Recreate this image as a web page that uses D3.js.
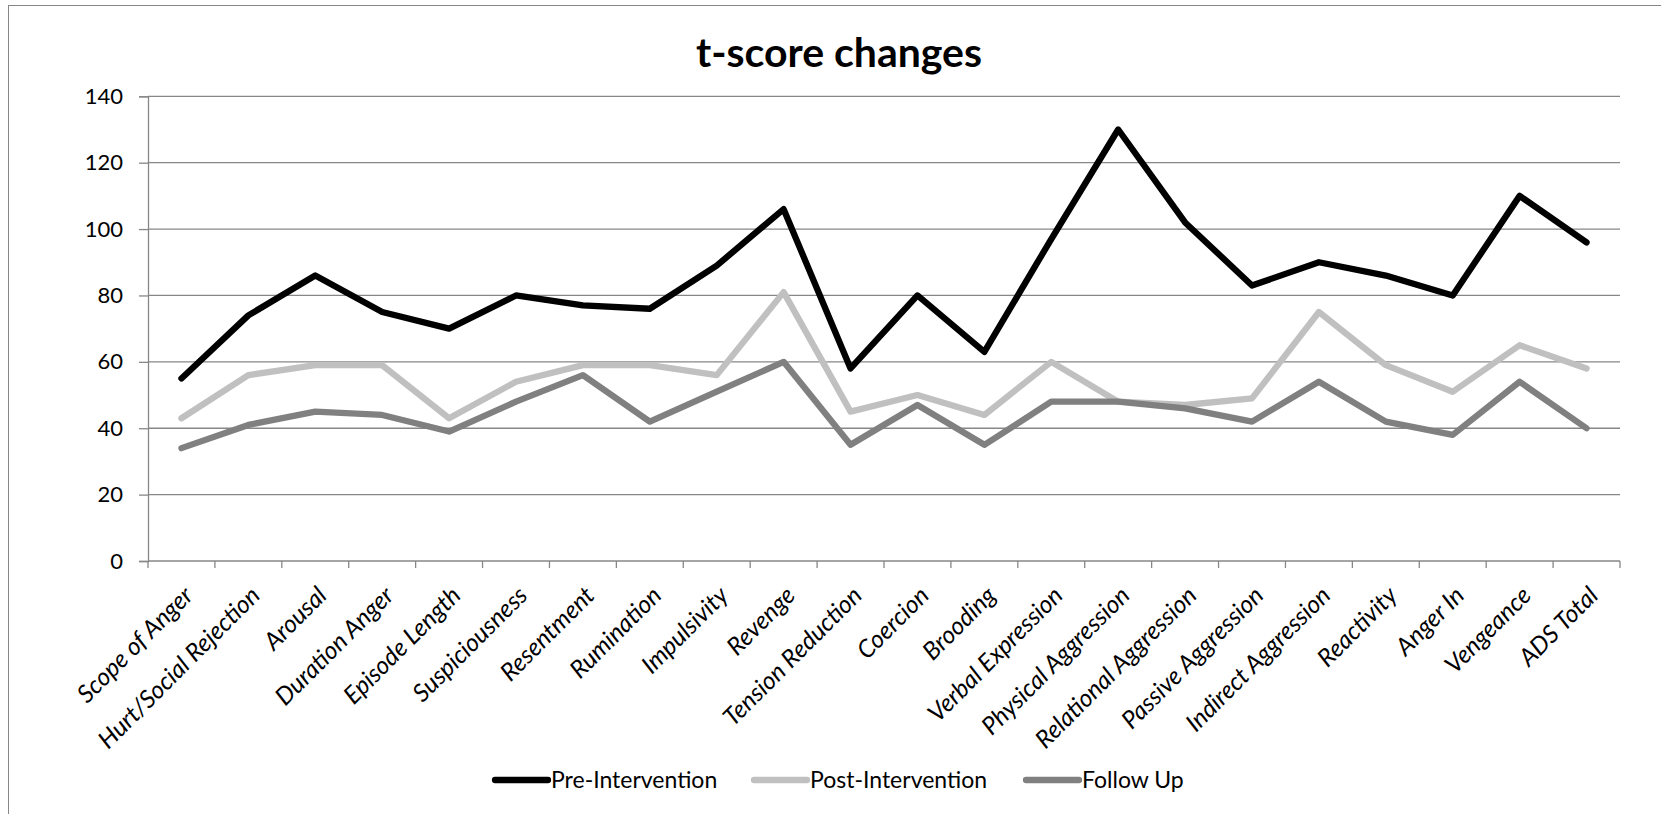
<!DOCTYPE html>
<html>
<head>
<meta charset="utf-8">
<script src="https://cdn.jsdelivr.net/npm/d3@7"></script>
<style>
  html, body { margin: 0; padding: 0; background: #fff; }
  svg { display: block; }
  text { font-family: Lato, "Open Sans", sans-serif; fill: #000; }
</style>
</head>
<body>
<svg id="chart" width="1661" height="814"></svg>
<script>
// Anger scale categories (x axis)
const categories = [
  "Scope of Anger", "Hurt/Social Rejection", "Arousal", "Duration Anger",
  "Episode Length", "Suspiciousness", "Resentment", "Rumination",
  "Impulsivity", "Revenge", "Tension Reduction", "Coercion", "Brooding",
  "Verbal Expression", "Physical Aggression", "Relational Aggression",
  "Passive Aggression", "Indirect Aggression", "Reactivity", "Anger In",
  "Vengeance", "ADS Total"
];

// t-scores per measurement point
const preIntervention  = [55, 74, 86, 75, 70, 80, 77, 76, 89, 106, 58, 80, 63, 97, 130, 102, 83, 90, 86, 80, 110, 96];
const postIntervention = [43, 56, 59, 59, 43, 54, 59, 59, 56, 81, 45, 50, 44, 60, 48, 47, 49, 75, 59, 51, 65, 58];
const followUp         = [34, 41, 45, 44, 39, 48, 56, 42, 51, 60, 35, 47, 35, 48, 48, 46, 42, 54, 42, 38, 54, 40];

const seriesNames  = ["Pre-Intervention", "Post-Intervention", "Follow Up"];
const seriesColors = ["#000000", "#c0c0c0", "#808080"];
const yTicks = [0, 20, 40, 60, 80, 100, 120, 140];
const chartTitle = "t-score changes";

const series = [preIntervention, postIntervention, followUp].map((values, i) => ({
  name: seriesNames[i], color: seriesColors[i], values
}));

const svg = d3.select("#chart");
const plot = { left: 148, right: 1620, top: 96.3, bottom: 561 };
const gridColor = "#878787";

// outer chart-area frame
svg.append("rect")
  .attr("x", 8.5).attr("y", 5.5)
  .attr("width", 1700).attr("height", 900)
  .attr("fill", "none").attr("stroke", gridColor).attr("stroke-width", 1);

const x = d3.scaleBand().domain(categories).range([plot.left, plot.right]).padding(0);
const y = d3.scaleLinear().domain([0, 140]).range([plot.bottom, plot.top]);

// title
svg.append("text")
  .attr("x", 839).attr("y", 67)
  .attr("text-anchor", "middle")
  .style("font-weight", "bold").style("font-size", "41px")
  .text(chartTitle);

// horizontal gridlines
svg.append("g")
  .selectAll("line")
  .data(yTicks.filter(t => t > 0))
  .join("line")
  .attr("x1", plot.left).attr("x2", plot.right)
  .attr("y1", d => y(d)).attr("y2", d => y(d))
  .attr("stroke", gridColor).attr("stroke-width", 1.3);

// y axis
const yAxis = svg.append("g")
  .attr("transform", `translate(${plot.left},0)`)
  .call(d3.axisLeft(y).tickValues(yTicks).tickSize(9).tickPadding(16).tickFormat(d3.format("d")));
yAxis.select(".domain").attr("stroke", gridColor).attr("stroke-width", 1.3);
yAxis.selectAll(".tick line").attr("stroke", gridColor).attr("stroke-width", 1.3);
yAxis.selectAll(".tick text")
  .style("font-size", "22px").style("font-family", "Lato, sans-serif").attr("fill", "#000");

// x axis line and tick marks at category boundaries
const boundaries = categories.map(c => x(c)).concat([plot.right]);
svg.append("line")
  .attr("x1", plot.left).attr("x2", plot.right)
  .attr("y1", plot.bottom).attr("y2", plot.bottom)
  .attr("stroke", gridColor).attr("stroke-width", 1.3);
svg.append("g")
  .selectAll("line")
  .data(boundaries)
  .join("line")
  .attr("x1", d => d).attr("x2", d => d)
  .attr("y1", plot.bottom).attr("y2", plot.bottom + 7)
  .attr("stroke", gridColor).attr("stroke-width", 1.3);

// rotated category labels
svg.append("g")
  .selectAll("text")
  .data(categories)
  .join("text")
  .attr("transform", d => `translate(${x(d) + x.bandwidth() / 2 + 13},${plot.bottom + 36}) rotate(-45)`)
  .attr("text-anchor", "end")
  .style("font-style", "italic").style("font-size", "24.5px")
  .text(d => d);

// series lines
const line = d3.line()
  .x((d, i) => x(categories[i]) + x.bandwidth() / 2)
  .y(d => y(d));

svg.append("g")
  .selectAll("path")
  .data(series)
  .join("path")
  .attr("d", d => line(d.values))
  .attr("fill", "none")
  .attr("stroke", d => d.color)
  .attr("stroke-width", 6.3)
  .attr("stroke-linejoin", "round")
  .attr("stroke-linecap", "round");

// legend
const legendX = [495, 754, 1026];
const legendY = 780;
const legend = svg.append("g")
  .selectAll("g")
  .data(series)
  .join("g")
  .attr("transform", (d, i) => `translate(${legendX[i]},${legendY})`);
legend.append("line")
  .attr("x1", 0).attr("x2", 53).attr("y1", 0).attr("y2", 0)
  .attr("stroke", d => d.color).attr("stroke-width", 6.3).attr("stroke-linecap", "round");
legend.append("text")
  .attr("x", 56).attr("y", 8)
  .style("font-size", "23px")
  .text(d => d.name);
</script>
</body>
</html>
